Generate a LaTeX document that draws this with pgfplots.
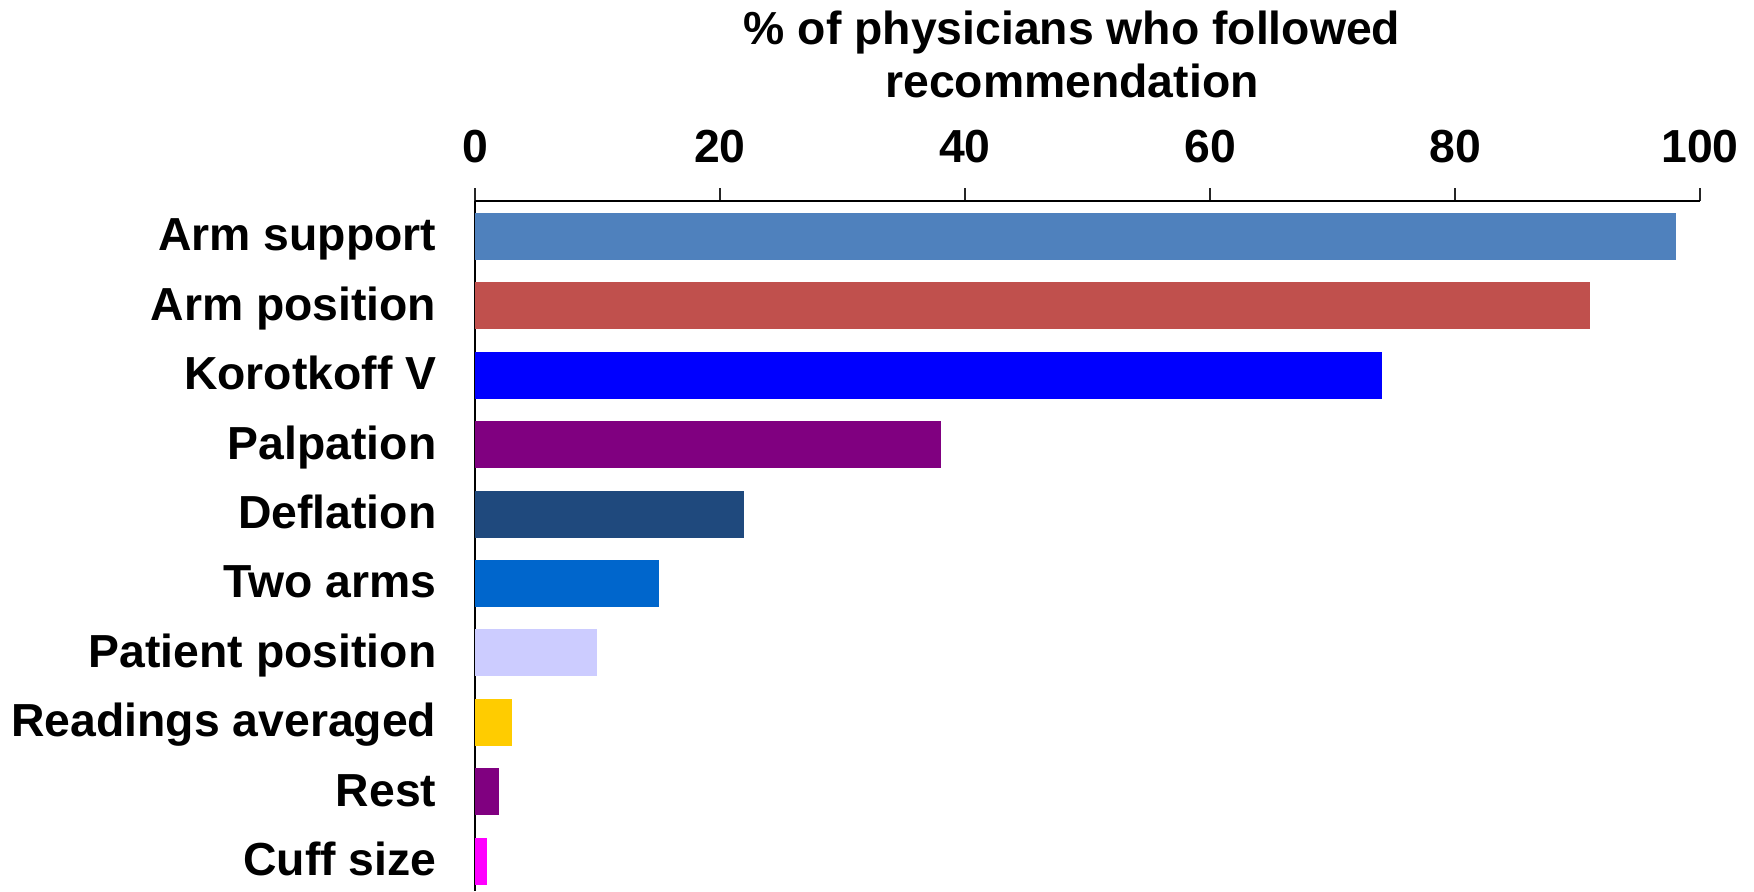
\documentclass[border=0pt]{standalone}
\usepackage{pgfplots}
\pgfplotsset{compat=1.18}
\usepackage{fontspec}
\setmainfont{Liberation Sans}

\definecolor{cArmSupport}{HTML}{4F81BD}
\definecolor{cArmPosition}{HTML}{C0504D}
\definecolor{cKorotkoff}{HTML}{0000FF}
\definecolor{cPalpation}{HTML}{800080}
\definecolor{cDeflation}{HTML}{1F497D}
\definecolor{cTwoArms}{HTML}{0066CC}
\definecolor{cPatient}{HTML}{CCCCFF}
\definecolor{cReadings}{HTML}{FFCC00}
\definecolor{cRest}{HTML}{800080}
\definecolor{cCuff}{HTML}{FF00FF}

\newcommand{\chartfont}{\fontsize{13.9}{16.5}\selectfont\bfseries}

\begin{document}
\begin{tikzpicture}
\useasboundingbox (-142.5pt,0pt) rectangle (383.7pt,267.3pt);
\begin{axis}[
  at={(0pt,0pt)}, anchor=south west,
  scale only axis, width=367.5pt, height=207pt,
  xbar, bar width=0.677,
  xmin=0, xmax=100, ymin=-0.512, ymax=9.43, y dir=reverse,
  axis x line*=top, axis y line*=left,
  axis line style={line width=0.6pt, black},
  xtick={0,20,40,60,80,100},
  tick align=outside, major tick length=3.9pt,
  x tick style={line width=0.6pt, color=black!85},
  ytick={0,...,9},
  yticklabels={Arm support, Arm position, Korotkoff V, Palpation, Deflation,
               Two arms, Patient position, Readings averaged, Rest, Cuff size},
  y tick style={draw=none},
  /pgf/number format/assume math mode=true,
  xticklabel style={font=\chartfont, anchor=base, yshift=7.6pt},
  yticklabel style={font=\chartfont, anchor=east, inner sep=0pt,
                    text height=0.716em, text depth=0pt,
                    xshift=-7.5pt, yshift=-0.7pt},
  clip=false,
]
\addplot[fill=cArmSupport,  draw=none, bar shift=0pt] coordinates {(98,0)};
\addplot[fill=cArmPosition, draw=none, bar shift=0pt] coordinates {(91,1)};
\addplot[fill=cKorotkoff,   draw=none, bar shift=0pt] coordinates {(74,2)};
\addplot[fill=cPalpation,   draw=none, bar shift=0pt] coordinates {(38,3)};
\addplot[fill=cDeflation,   draw=none, bar shift=0pt] coordinates {(22,4)};
\addplot[fill=cTwoArms,     draw=none, bar shift=0pt] coordinates {(15,5)};
\addplot[fill=cPatient,     draw=none, bar shift=0pt] coordinates {(10,6)};
\addplot[fill=cReadings,    draw=none, bar shift=0pt] coordinates {(3,7)};
\addplot[fill=cRest,        draw=none, bar shift=0pt] coordinates {(2,8)};
\addplot[fill=cCuff,        draw=none, bar shift=0pt] coordinates {(1,9)};
\end{axis}
\node[anchor=base, font=\chartfont] at (179.1pt,253.8pt) {\% of physicians who followed};
\node[anchor=base, font=\chartfont] at (179.1pt,237.9pt) {recommendation};
\end{tikzpicture}
\end{document}
